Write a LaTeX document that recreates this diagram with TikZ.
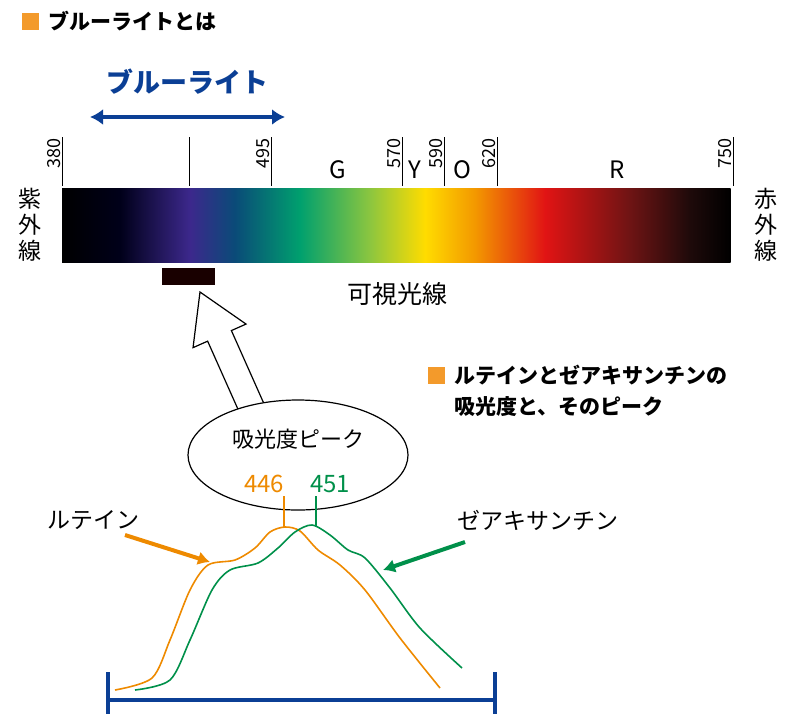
\documentclass[tikz,border=0pt]{standalone}
\usepackage{fontspec}
\setmainfont{Noto Sans CJK JP}
\usepackage{tikz}
\usetikzlibrary{positioning,arrows.meta,shapes.geometric}
\definecolor{mark}{HTML}{F39A2B}
\definecolor{lutein}{HTML}{EE8A00}
\definecolor{zea}{HTML}{00904A}
\definecolor{bluelight}{HTML}{0B3F95}

\begin{document}
\begin{tikzpicture}[x=1pt,y=-1pt,
  > = Latex,
  tick/.style = {draw,line width=0.8pt},
  nm/.style = {rotate=90,anchor=south east,inner sep=1.5pt,font=\fontsize{18}{18}\selectfont},
  band/.style = {anchor=south,inner sep=2pt,font=\fontsize{24}{24}\selectfont},
  sq/.style = {fill=mark,minimum size=17pt,inner sep=0pt},
  head/.style = {anchor=west,font=\fontsize{21}{31}\bfseries\selectfont,align=left},
  side/.style = {font=\fontsize{23}{26}\selectfont,align=center,inner sep=0pt}
  ]
  \useasboundingbox (0,0) rectangle (794,724);

  % title
  \node[sq] (sq1) at (30,21) {};
  \node[head,right=6pt of sq1] (title) {ブルーライトとは};

  % blue light range
  \node[font=\fontsize{27}{27}\bfseries\selectfont,text=bluelight] (bl) at (187,82) {ブルーライト};
  \coordinate (bla) at (90,117);
  \coordinate (blb) at (285,117);
  \draw[<->,line width=3.5pt,bluelight,>={Latex[length=13pt,width=16pt]}] (bla) -- (blb);

  % spectrum
  \coordinate (s0) at (62,188);
  \coordinate (s1) at (730,262);
  \foreach \xa/\xb/\ca/\cb in {62/120/black/black!90!blue, 120/190/black!90!blue/{rgb,255:red,60;green,40;blue,140},
      190/235/{rgb,255:red,60;green,40;blue,140}/{rgb,255:red,10;green,75;blue,120},
      235/300/{rgb,255:red,10;green,75;blue,120}/{rgb,255:red,0;green,160;blue,110},
      300/370/{rgb,255:red,0;green,160;blue,110}/{rgb,255:red,140;green,198;blue,63},
      370/425/{rgb,255:red,140;green,198;blue,63}/{rgb,255:red,255;green,220;blue,0},
      425/475/{rgb,255:red,255;green,220;blue,0}/{rgb,255:red,243;green,152;blue,0},
      475/545/{rgb,255:red,243;green,152;blue,0}/{rgb,255:red,225;green,20;blue,20},
      545/630/{rgb,255:red,225;green,20;blue,20}/{rgb,255:red,110;green,20;blue,20},
      630/690/{rgb,255:red,110;green,20;blue,20}/{rgb,255:red,30;green,10;blue,10},
      690/730.5/{rgb,255:red,30;green,10;blue,10}/black}
    \shade[left color=\ca,right color=\cb,shading angle=90] (\xa,188) rectangle (\xb,262);

  % ticks and names
  \foreach \tx/\tt in {62/380,189/,271/495,402/570,444/590,497/620,733/750} {
    \draw[tick] (\tx,137) -- (\tx,186);
    \node[nm] at (\tx,137) {\tt};
  }
  \node[band] (G) at (338,181) {G};
  \node[band] (Y) at (415,181) {Y};
  \node[band] (O) at (462,181) {O};
  \node[band] (R) at (617,181) {R};

  \node[side] (uv) at (30,225) {紫\\外\\線};
  \node[side] (ir) at (766,225) {赤\\外\\線};
  \node[font=\fontsize{25}{25}\selectfont] (vis) at (397,294) {可視光線};
  \node[fill=black!90!red,minimum width=53pt,minimum height=17pt,inner sep=0pt] (blk) at (188.5,276.5) {};

  % hollow arrow
  \draw[line width=1.2pt,fill=white,rotate around={24:(200,292)}]
    (200,292) -- (229,340) -- (213,340) -- (213,440) -- (187,440) -- (187,340) -- (171,340) -- cycle;

  % ellipse
  \node[ellipse,draw,line width=1.2pt,fill=white,minimum width=220pt,minimum height=110pt] (peak) at (298,455) {};
  \node[font=\fontsize{22}{22}\selectfont] (pk) at (298,439) {吸光度ピーク};
  \node[font=\fontsize{24}{24}\selectfont,text=lutein] (v446) at (264,484) {446};
  \node[font=\fontsize{24}{24}\selectfont,text=zea] (v451) at (330,484) {451};

  % second heading
  \node[sq] (sq2) at (436,375) {};
  \node[head,right=6pt of sq2,anchor=north west,yshift=13pt] (title2) {ルテインとゼアキサンチンの\\吸光度と、そのピーク};

  % curves
  \draw[lutein,line width=1.6pt] plot[smooth] coordinates {(115,690) (152,678) (170,640) (190,590) (208,565) (235,560) (255,548) (270,532) (285,527) (300,531) (318,550) (340,565) (365,590) (400,638) (440,688)};
  \draw[zea,line width=1.6pt] plot[smooth] coordinates {(135,690) (170,680) (190,640) (212,590) (230,570) (258,563) (278,548) (295,532) (312,525) (330,535) (348,550) (365,558) (390,588) (420,628) (462,668)};
  \coordinate (c446) at (284,527);
  \coordinate (c451) at (316,526);
  \draw[lutein,line width=1.4pt] (v446.south -| c446) -- (c446);
  \draw[zea,line width=1.4pt] (v451.south -| c451) -- (c451);

  % curve labels
  \node[font=\fontsize{23}{23}\selectfont] (lut) at (93,520) {ルテイン};
  \node[font=\fontsize{23}{23}\selectfont] (zx) at (538,520) {ゼアキサンチン};
  \coordinate (la) at (125,535);
  \coordinate (lb) at (210,562);
  \coordinate (za) at (465,542);
  \coordinate (zb) at (383,570);
  \draw[->,lutein,line width=4pt,>={Latex[length=12pt,width=14pt]}] (la) -- (lb);
  \draw[->,zea,line width=4pt,>={Latex[length=12pt,width=14pt]}] (za) -- (zb);

  % blue bracket
  \coordinate (ba) at (108,700);
  \coordinate (bb) at (495,700);
  \draw[bluelight,line width=3.5pt] (ba) -- (bb);
  \draw[bluelight,line width=3.5pt] (108,672) -- (108,714) (495,672) -- (495,714);
\end{tikzpicture}
\end{document}
